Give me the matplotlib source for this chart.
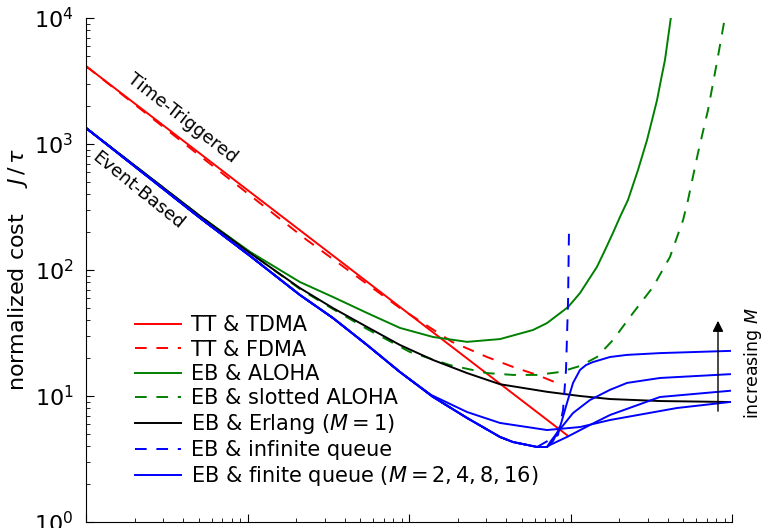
import matplotlib
matplotlib.use('Agg')
import matplotlib.pyplot as plt

plt.rcParams['font.family'] = ['DejaVu Sans']
plt.rcParams['mathtext.fontset'] = 'dejavusans'

# ---- data (x: arbitrary log axis 1..1e4) ----
tdma_x = [1, 966]
tdma_y = [4150, 4.82]

fdma_x = [1, 23.3, 87.9, 184.5, 304, 441, 621, 861]
fdma_y = [4150, 173, 49.9, 26.9, 20.4, 17.0, 14.7, 12.4]

aloha_x = [1, 5.08, 10.4, 21.1, 33.8, 55.0, 87.9, 141, 229, 366, 586, 715, 966,
           1145, 1459, 1636, 1832, 2026, 2270, 2618, 2978, 3199, 3435, 3631, 3846, 4188]
aloha_y = [1340, 268, 139, 80.3, 61.1, 45.6, 34.7, 29.4, 26.9, 28.3, 33.4, 37.9, 50.8,
           65.6, 106, 144, 197, 264, 360, 622, 1076, 1549, 2234, 3221, 4645, 10190]

slot_x = [1, 5.08, 21.1, 33.8, 55.0, 101, 179, 304, 441, 621, 861, 1145, 1459,
          1832, 2439, 3243, 4130, 4977, 5343, 6157, 7104, 8072, 9054]
slot_y = [1340, 268, 70.7, 49.0, 34.0, 22.4, 17.6, 15.2, 14.7, 14.7, 15.5, 17.3, 20.4,
          27.8, 45.6, 73.3, 127, 249, 360, 849, 1862, 4475, 10190]

erl_x = [1, 5.08, 10.4, 21.1, 33.8, 55.0, 87.9, 141, 229, 366, 715, 1145, 1758, 3581, 9720]
erl_y = [1340, 268, 136, 71.9, 49.9, 35.3, 25.4, 19.3, 15.2, 12.4, 10.8, 10.0, 9.46, 9.12, 8.96]

# common descending branch of the event-based queues
eb_x = [1, 5.08, 10.4, 21.1, 33.8, 55.0, 87.9, 141, 229, 366, 441, 621, 715]
eb_y = [1340, 259, 129, 63.4, 41.6, 25.4, 15.5, 9.82, 6.69, 4.73, 4.31, 3.94, 3.94]

inf_x = eb_x[:-1] + [837, 899, 938, 966, 979]
inf_y = eb_y[:-1] + [4.90, 7.74, 16.1, 57.8, 215]

m2_x = eb_x[:7] + [137, 229, 366, 715, 1145, 1758, 4563, 9720]
m2_y = eb_y[:7] + [10.2, 7.46, 6.11, 5.37, 5.67, 6.45, 8.03, 8.96]

m4_x = eb_x + [747, 951, 1321, 1758, 3581, 9720]
m4_y = eb_y + [4.09, 4.73, 5.89, 7.07, 9.82, 11.0]

m8_x = eb_x + [757, 825, 1037, 1321, 1758, 2239, 3581, 9720]
m8_y = eb_y + [4.40, 5.09, 7.33, 9.30, 11.2, 12.7, 13.9, 14.9]

m16_x = eb_x + [780, 861, 951, 1037, 1145, 1247, 1378, 1758, 2239, 3581, 9720]
m16_y = eb_y + [4.40, 5.67, 8.80, 12.7, 16.1, 17.6, 18.6, 20.4, 21.2, 21.9, 22.8]

red, green, blue = '#ff0000', '#008000', '#0000ff'
lw = 1.4
dash = (0, (6, 5))

fig = plt.figure(figsize=(7.63, 5.28), dpi=100)
ax = fig.add_axes([86 / 763, 6 / 528, (732 - 86) / 763, (522 - 18) / 528])

ax.plot(tdma_x, tdma_y, color=red, lw=lw, label='TT & TDMA')
ax.plot(fdma_x, fdma_y, color=red, lw=lw, ls=dash, label='TT & FDMA')
ax.plot(aloha_x, aloha_y, color=green, lw=lw, label='EB & ALOHA')
ax.plot(slot_x, slot_y, color=green, lw=lw, ls=dash, label='EB & slotted ALOHA')
ax.plot(erl_x, erl_y, color='black', lw=lw, label='EB & Erlang ($M = 1$)')
ax.plot(inf_x, inf_y, color=blue, lw=lw, ls=dash, label='EB & infinite queue')
ax.plot(m2_x, m2_y, color=blue, lw=lw, label='EB & finite queue ($M = 2, 4, 8, 16$)')
for xs, ys in [(m4_x, m4_y), (m8_x, m8_y), (m16_x, m16_y)]:
    ax.plot(xs, ys, color=blue, lw=lw)

ax.set_xscale('log')
ax.set_yscale('log')
ax.set_xlim(1, 1e4)
ax.set_ylim(1, 1e4)
ax.spines['top'].set_visible(False)
ax.spines['right'].set_visible(False)
ax.tick_params(which='both', direction='in', labelsize=16)
ax.tick_params(which='major', length=6, pad=9)
ax.tick_params(which='minor', length=3)
ax.tick_params(axis='x', labelbottom=False)
ax.set_ylabel('normalized cost $\\quad J\\,/\\,\\tau$', fontsize=16, labelpad=3)

ax.text(3.93, 1607, 'Time-Triggered', rotation=-38, fontsize=13,
        ha='center', va='center', rotation_mode='anchor')
ax.text(2.10, 431, 'Event-Based', rotation=-39, fontsize=13,
        ha='center', va='center', rotation_mode='anchor')

ax.annotate('', xy=(8190, 41.6), xytext=(8190, 7.2),
            arrowprops=dict(arrowstyle='-|>', color='black', lw=1.0, mutation_scale=16))
ax.text(1.032, 0.315, 'increasing $M$', transform=ax.transAxes, rotation=90,
        fontsize=12.5, ha='center', va='center')

ax.legend(loc='lower left', bbox_to_anchor=(0.063, 0.05), frameon=False, fontsize=15,
          handlelength=2.2, handletextpad=0.5, labelspacing=0.2, borderaxespad=0)

fig.savefig('out.png', dpi=100)
